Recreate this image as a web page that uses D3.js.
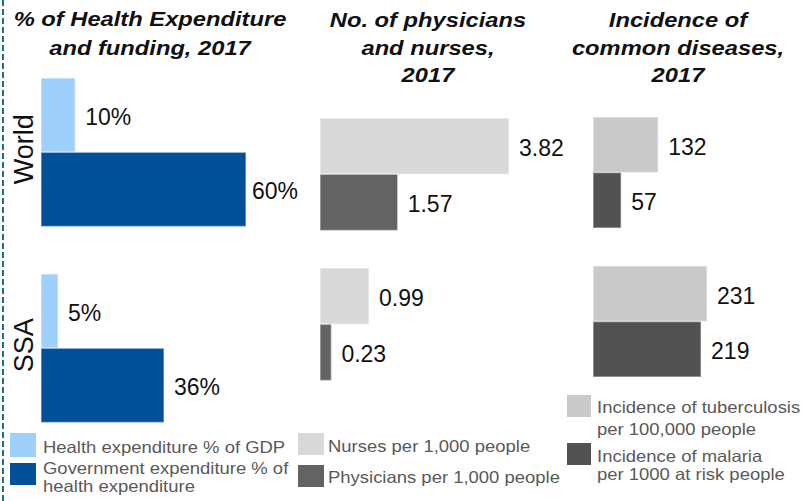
<!DOCTYPE html>
<html>
<head>
<meta charset="utf-8">
<script src="https://cdn.jsdelivr.net/npm/d3@7/dist/d3.min.js"></script>
<style>
  html, body { margin: 0; padding: 0; background: #fff; }
  svg { display: block; font-family: "Liberation Sans", Arial, sans-serif; }
</style>
</head>
<body>
<svg id="chart" width="804" height="501"></svg>
<script>
// Regions compared in every panel
const regions = ["World", "SSA"];

// Panel 1: health spending (%)
const healthExpGdp = [10, 5];
const govExpShare = [60, 36];

// Panel 2: health workforce per 1,000 people
const nursesPer1000 = [3.82, 0.99];
const physiciansPer1000 = [1.57, 0.23];

// Panel 3: disease incidence
const tbPer100k = [132, 231];
const malariaPer1000 = [57, 219];

// Titles and legend entries
const panelTitles = [
  ["% of Health Expenditure", "and funding, 2017"],
  ["No. of physicians", "and nurses,", "2017"],
  ["Incidence of", "common diseases,", "2017"]
];
const spendLegend = [["Health expenditure % of GDP"], ["Government expenditure % of", "health expenditure"]];
const staffLegend = [["Nurses per 1,000 people"], ["Physicians per 1,000 people"]];
const diseaseLegend = [["Incidence of tuberculosis", "per 100,000 people"], ["Incidence of malaria", "per 1000 at risk people"]];

const svg = d3.select("#chart");

// text drawn slightly widened (wide-set heading / legend type)
function wideText(parent, x, y, str, sx, anchor) {
  return parent.append("g")
    .attr("transform", `translate(${x},${y}) scale(${sx},1)`)
    .append("text")
    .attr("x", 0).attr("y", 0)
    .attr("text-anchor", anchor || "start")
    .text(str);
}

// dashed divider on the left edge
svg.append("line")
  .attr("x1", 3).attr("x2", 3).attr("y1", 0).attr("y2", 501)
  .attr("stroke", "#1f6f86").attr("stroke-width", 2)
  .attr("stroke-dasharray", "6,3");

const panels = [
  {
    title: panelTitles[0], titleX: 150, titleY: [26, 55],
    series: [healthExpGdp, govExpShare], colors: ["#9fd0fb", "#03509a"],
    xRange: [41, 246], yRange: [78, 422.5], padInner: 0.242,
    fmt: v => v + "%", labelMaxRight: 298,
    legend: spendLegend, legendBox: { x: 10, w: 26, ys: [433, 463], hs: [24, 22] },
    legendText: { x: 43, lines: [[453], [474, 492]] }
  },
  {
    title: panelTitles[1], titleX: 428, titleY: [27, 55, 82],
    series: [nursesPer1000, physiciansPer1000], colors: ["#d9d9d9", "#636363"],
    xRange: [320, 509], yRange: [118, 380.5], padInner: 0.25,
    fmt: v => v.toFixed(2), labelMaxRight: 570,
    legend: staffLegend, legendBox: { x: 298, w: 26, ys: [433, 465], hs: [22, 22] },
    legendText: { x: 328, lines: [[452], [483]] }
  },
  {
    title: panelTitles[2], titleX: 678, titleY: [27, 55, 82],
    series: [tbPer100k, malariaPer1000], colors: ["#c9c9c9", "#525252"],
    xRange: [593, 707], yRange: [117, 377], padInner: 0.255,
    fmt: v => String(v), labelMaxRight: 804,
    legend: diseaseLegend, legendBox: { x: 567, w: 24, ys: [395, 443], hs: [22, 22] },
    legendText: { x: 597, lines: [[413, 435], [462, 480]] }
  }
];

panels.forEach((p, pi) => {
  const g = svg.append("g");

  // title
  const tg = g.append("g")
    .attr("font-size", 21).attr("font-weight", "bold").attr("font-style", "italic")
    .attr("fill", "#111");
  p.title.forEach((line, i) => wideText(tg, p.titleX, p.titleY[i], line, 1.13, "middle"));

  const maxV = d3.max(p.series.flat());
  const x = d3.scaleLinear().domain([0, maxV]).range(p.xRange);
  const yGroup = d3.scaleBand().domain(regions).range(p.yRange).paddingInner(p.padInner);
  const ySeries = d3.scaleBand().domain(d3.range(p.series.length)).range([0, yGroup.bandwidth()]);

  const rows = [];
  regions.forEach((r, ri) => {
    p.series.forEach((vals, si) => rows.push({ region: r, si, value: vals[ri] }));
  });

  g.selectAll("rect.bar").data(rows).join("rect")
    .attr("class", "bar")
    .attr("x", x(0))
    .attr("y", d => yGroup(d.region) + ySeries(d.si))
    .attr("width", d => x(d.value) - x(0))
    .attr("height", ySeries.bandwidth())
    .attr("fill", d => p.colors[d.si])
    .attr("stroke", "#ffffff").attr("stroke-opacity", 0.45).attr("stroke-width", 1.5);

  g.selectAll("text.val").data(rows).join("text")
    .attr("class", "val")
    .attr("font-size", 23).attr("fill", "#111")
    .attr("y", d => yGroup(d.region) + ySeries(d.si) + ySeries.bandwidth() / 2 + 10)
    .text(d => p.fmt(d.value))
    .attr("x", function (d) {
      const w = this.getComputedTextLength();
      return Math.min(x(d.value) + 10, p.labelMaxRight - w);
    });

  // region labels, rotated, on the first panel only
  if (pi === 0) {
    regions.forEach(r => {
      g.append("text")
        .attr("transform", `translate(33,${yGroup(r) + yGroup.bandwidth() / 2 - 3}) rotate(-90)`)
        .attr("text-anchor", "middle")
        .attr("font-size", 27).attr("fill", "#111")
        .text(r);
    });
  }

  // legend
  const lg = g.append("g").attr("font-size", 16.5).attr("fill", "#595959");
  p.legend.forEach((lines, li) => {
    g.append("rect")
      .attr("x", p.legendBox.x).attr("y", p.legendBox.ys[li])
      .attr("width", p.legendBox.w).attr("height", p.legendBox.hs[li])
      .attr("fill", p.colors[li]);
    lines.forEach((line, k) => {
      wideText(lg, p.legendText.x, p.legendText.lines[li][k], line, 1.12);
    });
  });
});
</script>
</body>
</html>
